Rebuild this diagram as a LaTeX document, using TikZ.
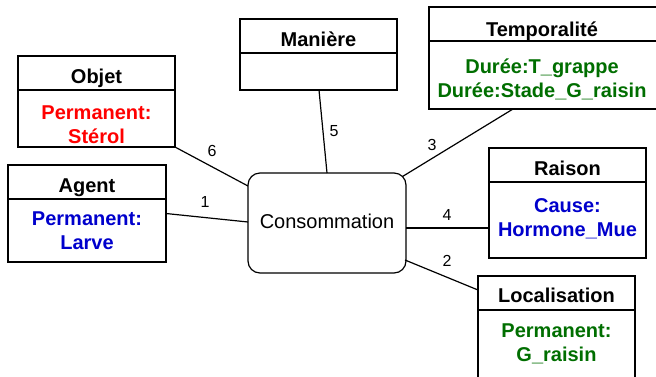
\documentclass[tikz,border=0pt]{standalone}
\usepackage{fontspec}
\setmainfont{Liberation Sans}
\usetikzlibrary{calc}
\definecolor{cred}{RGB}{255,0,0}
\definecolor{cblue}{RGB}{0,0,204}
\definecolor{cgreen}{RGB}{0,110,0}
\begin{document}
\begin{tikzpicture}[x=1pt,y=-1pt,
  box/.style={draw, line width=1.2pt, inner sep=0pt, outer sep=0pt},
  hdrtxt/.style={font=\bfseries\fontsize{20}{24}\selectfont, anchor=base, inner sep=0pt},
  bodytxt/.style={font=\bfseries\fontsize{20}{23.5}\selectfont, align=center, anchor=base, inner sep=0pt},
  num/.style={font=\fontsize{16}{18}\selectfont, inner sep=0pt},
  link/.style={line width=1.2pt}]
\useasboundingbox (0,0) rectangle (656,376);

\node[box, minimum width=158, minimum height=100, rounded corners=12pt] (cons) at (327,223) {};
\node[box, minimum width=157, minimum height=91] (objet) at (96.5,101.5) {};
\node[box, minimum width=158, minimum height=97] (agent) at (87,213.5) {};
\node[box, minimum width=157, minimum height=71] (maniere) at (318.5,54.5) {};
\node[box, minimum width=228, minimum height=102] (temp) at (543,58) {};
\node[box, minimum width=157, minimum height=110] (raison) at (567.5,203) {};
\node[box, minimum width=157, minimum height=102] (loc) at (556.5,327) {};

% headers
\node[box, minimum width=157, minimum height=34, anchor=north] (objeth) at (objet.north) {};
\node[box, minimum width=158, minimum height=34, anchor=north] (agenth) at (agent.north) {};
\node[box, minimum width=157, minimum height=34, anchor=north] (manh) at (maniere.north) {};
\node[box, minimum width=228, minimum height=34, anchor=north] (temph) at (temp.north) {};
\node[box, minimum width=157, minimum height=34, anchor=north] (raisonh) at (raison.north) {};
\node[box, minimum width=157, minimum height=34, anchor=north] (loch) at (loc.north) {};

\node[hdrtxt] (tobjet) at (96.5,83) {Objet};
\node[hdrtxt] (tagent) at (87,192) {Agent};
\node[hdrtxt] (tman) at (318.5,46) {Manière};
\node[hdrtxt] (ttemp) at (542,36) {Temporalité};
\node[hdrtxt] (traison) at (567.5,175) {Raison};
\node[hdrtxt] (tloc) at (556.5,302) {Localisation};

% bodies (anchor = baseline of last line)
\node[bodytxt, text=cred] (bobjet) at (96.5,143) {Permanent:\\Stérol};
\node[bodytxt, text=cblue] (bagent) at (87,249) {Permanent:\\Larve};
\node[bodytxt, text=cgreen] (btemp) at (542,97) {Durée:T\_grappe\\Durée:Stade\_G\_raisin};
\node[bodytxt, text=cblue] (braison) at (567.5,236) {Cause:\\Hormone\_Mue};
\node[bodytxt, text=cgreen] (bloc) at (556.5,361) {Permanent:\\G\_raisin};

\node[anchor=base, inner sep=0pt, font=\fontsize{20}{24}\selectfont] (tcons) at (327,228) {Consommation};

% connectors
\draw[link] (objet.south east) -- ($(cons.west)+(0,-37)$);
\draw[link] (agent.east) -- ($(cons.west)+(0,-1)$);
\draw[link] ($(maniere.south)+(0.5,0)$) -- (cons.north);
\draw[link] ($(temp.south west)+(84,0)$) -- ($(cons.north east)+(-3.5,3.5)$);
\draw[link] ($(cons.east)+(0,5)$) -- ($(raison.west)+(0,25)$);
\draw[link] ($(cons.east)+(-1,37)$) -- ($(loc.north west)+(0,14)$);

\node[num] (n6) at (212,151) {6};
\node[num] (n1) at (205,202) {1};
\node[num] (n5) at (334,131) {5};
\node[num] (n3) at (432,145) {3};
\node[num] (n4) at (447,215) {4};
\node[num] (n2) at (447,261) {2};
\end{tikzpicture}
\end{document}
